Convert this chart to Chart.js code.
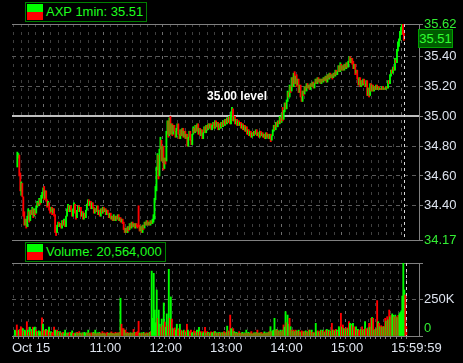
<!DOCTYPE html>
<html>
<head>
<meta charset="utf-8">
<script src="https://cdn.jsdelivr.net/npm/chart.js@4.4.1/dist/chart.umd.min.js"></script>
<style>
html,body{margin:0;padding:0;background:#000;}
#wrap{position:relative;width:463px;height:363px;overflow:hidden;background:#000;font-family:"Liberation Sans",Arial,sans-serif;}
canvas{position:absolute;left:0;}
#cPrice{top:0;}
#cVol{top:242px;}
.leg{position:absolute;left:25px;height:18px;border:1px solid #008000;background:#000;color:#1eff1e;font-size:13px;line-height:18px;padding:0 3px 0 20px;white-space:nowrap;}
.leg .sw1{position:absolute;left:1px;top:1px;width:16px;height:8px;background:#00ff00;}
.leg .sw2{position:absolute;left:1px;top:9px;width:16px;height:8px;background:#ff0000;}
#lastPx{position:absolute;left:418px;top:29px;width:33px;height:17px;border:1px solid #00a000;background:#005c00;color:#33ff33;font-size:13px;line-height:17px;text-align:center;}
#level{position:absolute;left:207px;top:89px;color:#fff;font-weight:bold;font-size:12px;}
</style>
</head>
<body>
<div id="wrap">
<canvas id="cPrice" width="463" height="250"></canvas>
<canvas id="cVol" width="463" height="121"></canvas>
<div class="leg" style="top:2px"><span class="sw1"></span><span class="sw2"></span>AXP 1min: 35.51</div>
<div class="leg" style="top:242px"><span class="sw1"></span><span class="sw2"></span>Volume: 20,564,000</div>
<div id="lastPx">35.51</div>
<div id="level">35.00 level</div>
</div>
<script>
// AXP 1-minute bars, 09:30 .. 15:59 (390 bars)
const opens = [
34.66,34.72,34.74,34.62,34.47,34.55,34.46,34.36,34.27,34.31,
34.26,34.31,34.36,34.30,34.37,34.34,34.38,34.33,34.37,34.35,
34.39,34.42,34.40,34.44,34.42,34.45,34.47,34.53,34.45,34.50,
34.44,34.40,34.42,34.38,34.36,34.39,34.35,34.38,34.34,34.25,
34.22,34.26,34.29,34.26,34.28,34.25,34.30,34.27,34.30,34.26,
34.33,34.37,34.40,34.36,34.40,34.37,34.33,34.38,34.41,34.35,
34.32,34.37,34.40,34.36,34.39,34.33,34.36,34.31,34.35,34.32,
34.37,34.41,34.44,34.40,34.43,34.38,34.42,34.39,34.35,34.38,
34.36,34.40,34.34,34.37,34.33,34.38,34.35,34.39,34.36,34.38,
34.34,34.37,34.35,34.32,34.35,34.31,34.33,34.30,34.33,34.30,
34.33,34.31,34.34,34.30,34.32,34.29,34.31,34.29,34.25,34.22,
34.25,34.22,34.26,34.24,34.28,34.25,34.29,34.26,34.28,34.25,
34.28,34.27,34.40,34.27,34.23,34.26,34.22,34.27,34.25,34.29,
34.27,34.30,34.27,34.29,34.27,34.30,34.28,34.29,34.31,34.44,
34.50,34.64,34.74,34.60,34.78,34.84,34.70,34.80,34.65,34.72,
34.70,34.88,34.97,34.87,35.00,34.88,34.95,34.88,34.94,34.90,
34.86,34.92,34.95,34.88,34.85,34.91,34.87,34.92,34.86,34.90,
34.85,34.88,34.80,34.86,34.90,34.84,34.81,34.88,34.92,34.89,
34.94,34.90,34.95,34.88,34.92,34.87,34.91,34.85,34.89,34.93,
34.89,34.94,34.91,34.95,34.92,34.95,34.91,34.94,34.96,34.92,
34.97,34.93,34.96,34.91,34.95,34.92,34.96,34.93,34.97,34.94,
34.98,34.95,34.99,34.96,35.00,34.95,35.02,35.05,34.97,35.00,
34.95,34.98,34.94,34.97,34.94,34.96,34.92,34.95,34.91,34.94,
34.90,34.93,34.88,34.91,34.87,34.90,34.86,34.89,34.87,34.90,
34.88,34.91,34.87,34.89,34.86,34.90,34.87,34.89,34.86,34.88,
34.85,34.89,34.86,34.88,34.85,34.88,34.84,34.87,34.90,34.94,
34.91,34.96,34.93,34.97,34.95,34.99,34.96,35.06,34.98,35.03,
35.09,35.05,35.10,35.16,35.13,35.20,35.17,35.26,35.20,35.30,
35.22,35.28,35.21,35.25,35.16,35.21,35.13,35.10,35.17,35.15,
35.20,35.17,35.22,35.19,35.21,35.18,35.22,35.20,35.23,35.19,
35.22,35.25,35.22,35.26,35.23,35.25,35.22,35.25,35.23,35.26,
35.24,35.27,35.23,35.28,35.25,35.29,35.26,35.28,35.26,35.29,
35.27,35.31,35.28,35.30,35.34,35.30,35.35,35.31,35.34,35.31,
35.35,35.32,35.36,35.33,35.37,35.40,35.36,35.39,35.37,35.32,
35.35,35.29,35.31,35.25,35.21,35.26,35.20,35.24,35.21,35.25,
35.22,35.20,35.24,35.14,35.19,35.14,35.22,35.17,35.21,35.17,
35.20,35.18,35.21,35.18,35.20,35.18,35.19,35.18,35.20,35.18,
35.19,35.18,35.20,35.19,35.24,35.22,35.27,35.31,35.29,35.33,
35.31,35.38,35.36,35.44,35.47,35.51,35.55,35.58,35.62,35.56
];
const closes = [
34.76,34.75,34.60,34.50,34.56,34.46,34.33,34.27,34.31,34.25,
34.33,34.38,34.29,34.37,34.34,34.39,34.32,34.38,34.34,34.40,
34.43,34.40,34.45,34.41,34.47,34.49,34.52,34.44,34.50,34.43,
34.39,34.43,34.37,34.35,34.39,34.34,34.38,34.33,34.22,34.20,
34.27,34.29,34.26,34.28,34.25,34.30,34.27,34.31,34.26,34.33,
34.38,34.41,34.36,34.40,34.37,34.33,34.38,34.42,34.35,34.31,
34.37,34.40,34.36,34.39,34.33,34.36,34.31,34.35,34.32,34.37,
34.41,34.44,34.40,34.43,34.38,34.42,34.39,34.35,34.38,34.36,
34.40,34.34,34.37,34.33,34.38,34.35,34.39,34.36,34.38,34.34,
34.37,34.35,34.32,34.35,34.31,34.33,34.30,34.34,34.30,34.33,
34.31,34.34,34.30,34.32,34.29,34.31,34.28,34.24,34.22,34.25,
34.22,34.26,34.23,34.28,34.25,34.29,34.26,34.28,34.25,34.28,
34.26,34.25,34.26,34.23,34.26,34.22,34.27,34.24,34.29,34.27,
34.30,34.27,34.29,34.27,34.30,34.28,34.31,34.34,34.45,34.53,
34.66,34.75,34.58,34.78,34.86,34.70,34.80,34.64,34.72,34.68,
34.90,34.97,34.86,34.99,34.88,34.95,34.87,34.94,34.90,34.86,
34.92,34.95,34.88,34.85,34.91,34.87,34.92,34.86,34.90,34.85,
34.88,34.80,34.86,34.90,34.84,34.81,34.88,34.93,34.89,34.94,
34.90,34.95,34.88,34.92,34.87,34.91,34.85,34.89,34.93,34.89,
34.94,34.91,34.95,34.92,34.95,34.91,34.94,34.96,34.92,34.97,
34.93,34.96,34.91,34.95,34.92,34.96,34.93,34.97,34.94,34.98,
34.95,34.99,34.96,35.00,34.95,35.03,35.06,34.97,35.00,34.95,
34.98,34.94,34.97,34.94,34.96,34.92,34.95,34.91,34.94,34.90,
34.93,34.88,34.91,34.87,34.90,34.86,34.89,34.87,34.90,34.88,
34.91,34.87,34.89,34.86,34.90,34.87,34.89,34.86,34.88,34.85,
34.89,34.86,34.88,34.85,34.88,34.83,34.87,34.91,34.94,34.91,
34.96,34.93,34.97,34.95,35.00,34.96,35.02,34.97,35.04,35.09,
35.05,35.11,35.17,35.13,35.21,35.16,35.26,35.20,35.29,35.22,
35.27,35.20,35.25,35.16,35.21,35.13,35.10,35.17,35.14,35.20,
35.17,35.22,35.19,35.21,35.18,35.22,35.20,35.23,35.19,35.22,
35.25,35.22,35.26,35.23,35.25,35.22,35.25,35.23,35.26,35.24,
35.27,35.23,35.28,35.25,35.29,35.26,35.28,35.25,35.29,35.27,
35.31,35.28,35.30,35.34,35.30,35.36,35.31,35.34,35.31,35.35,
35.32,35.36,35.33,35.37,35.40,35.36,35.39,35.35,35.32,35.35,
35.28,35.31,35.25,35.21,35.26,35.20,35.24,35.21,35.25,35.22,
35.20,35.24,35.14,35.19,35.13,35.22,35.17,35.21,35.17,35.20,
35.18,35.21,35.18,35.20,35.18,35.19,35.18,35.20,35.18,35.19,
35.18,35.20,35.19,35.24,35.22,35.28,35.31,35.29,35.33,35.31,
35.39,35.36,35.45,35.50,35.52,35.57,35.60,35.62,35.55,35.51
];
// volume per bar, thousands of shares
const volumesK = [
40,35,75,30,40,45,63,55,50,30,
40,30,97,40,25,60,30,45,60,55,
60,40,30,25,35,25,30,124,80,35,
40,45,35,40,60,25,30,20,25,60,
40,35,40,30,25,30,20,20,25,15,
40,20,18,22,15,25,20,35,18,20,
15,22,25,18,30,20,15,22,20,25,
18,22,20,40,20,15,22,18,25,20,
40,15,22,18,25,20,15,30,18,22,
15,20,25,18,15,22,28,18,20,15,
25,18,22,20,25,256,80,50,50,40,
40,20,25,18,20,22,18,20,45,25,
20,25,30,100,20,15,22,18,25,20,
15,22,18,20,25,30,440,120,425,176,
90,312,120,176,80,60,115,70,224,95,
60,150,70,452,120,265,115,50,45,55,
40,80,40,50,80,40,35,30,40,35,
25,80,40,20,30,40,20,25,35,20,
30,40,25,58,30,25,30,20,28,58,
20,30,25,20,22,28,20,25,30,30,
20,22,18,25,20,22,20,25,30,20,
25,67,35,30,142,50,45,50,30,20,
25,18,22,30,18,20,25,15,22,18,
40,20,25,18,22,30,15,20,22,18,
25,40,20,18,22,25,15,20,28,18,
22,20,25,30,63,30,35,40,120,40,
45,40,35,30,40,30,40,75,60,165,
90,142,80,120,63,40,35,40,30,40,
35,30,40,30,25,35,30,28,30,35,
25,30,40,40,35,40,25,20,22,86,
30,35,28,30,40,35,40,30,25,40,
45,35,40,30,35,86,40,40,35,45,
40,30,63,50,154,60,75,50,50,45,
55,50,97,86,80,70,86,63,55,63,
40,45,35,40,45,63,40,45,97,50,
45,55,86,60,120,126,120,40,45,50,
240,97,86,63,70,60,65,63,120,100,
131,110,176,130,142,150,140,130,142,131,
125,140,150,160,171,271,495,312,278,63
];

const priceTicks = [34.17,34.3,34.4,34.5,34.6,34.7,34.8,34.9,35.0,35.1,35.2,35.3,35.4,35.5,35.62];
const priceLabelTicks = [34.17,34.4,34.6,34.8,35.0,35.2,35.4,35.62];
const priceGridTicks = [34.4,34.6,34.8,35.2,35.4];
const volTicks = [0,250000,495000];
const timeTickValues = [90,150,210,270,330];
const timeTickLabels = ['11:00','12:00','13:00','14:00','15:00'];
const dateLabel = 'Oct 15';
const lastLabel = '15:59:59';
const levelPrice = 35.00;
const lastBar = 389;

const UP = '#00ff00', DOWN = '#ff0000';
const GREEN_TXT = '#33ee33', AXIS_TXT = '#dde3ee';
const barColors = opens.map((o,i) => closes[i] >= o ? UP : DOWN);

Chart.defaults.font.family = '"Liberation Sans", Arial, sans-serif';
Chart.defaults.font.size = 13;
Chart.defaults.animation = false;

const X_MIN = -1.5, X_MAX = 400.3;

function gridTimes(step){
  let t = [];
  for (let v = 0; v <= 390; v += step) t.push({value: v});
  return t;
}
function vGridColor(v){
  if (v % 7.5 !== 0) return 'transparent';
  return ((v - 30) % 60 === 0) ? '#6e6e6e' : '#404040';
}

// lines that frame the panels, the 35.00 level and the last-bar cursor
const panelDeco = {
  id: 'panelDeco',
  beforeDatasetsDraw(chart, args, opts){
    const {ctx, chartArea: a} = chart;
    ctx.save();
    ctx.strokeStyle = '#808080';
    ctx.lineWidth = 1;
    ctx.beginPath();
    ctx.moveTo(a.left, Math.round(a.top) + 0.5);
    ctx.lineTo(a.right, Math.round(a.top) + 0.5);
    ctx.stroke();
    if (opts.level !== undefined){
      const y = Math.round(chart.scales.y.getPixelForValue(opts.level));
      ctx.strokeStyle = '#ffffff';
      ctx.lineWidth = 1.5;
      ctx.beginPath();
      ctx.moveTo(a.left, y);
      ctx.lineTo(a.right, y);
      ctx.stroke();
    }
    ctx.restore();
  },
  afterDatasetsDraw(chart, args, opts){
    const {ctx, chartArea: a} = chart;
    const x = Math.round(chart.scales.x.getPixelForValue(opts.cursor)) + 0.5;
    ctx.save();
    ctx.strokeStyle = '#d8d8d8';
    ctx.lineWidth = 1;
    ctx.setLineDash([3,3]);
    ctx.beginPath();
    ctx.moveTo(x, a.top);
    ctx.lineTo(x, a.bottom);
    ctx.stroke();
    ctx.restore();
  },
  afterDraw(chart, args, opts){
    if (!opts.timeLabels) return;
    const {ctx, chartArea: a} = chart;
    const xs = chart.scales.x;
    const y = a.bottom + 12;
    ctx.save();
    ctx.font = '13px "Liberation Sans", Arial, sans-serif';
    ctx.fillStyle = AXIS_TXT;
    ctx.textBaseline = 'middle';
    ctx.textAlign = 'left';
    ctx.fillText(dateLabel, a.left, y);
    ctx.textAlign = 'center';
    timeTickValues.forEach((v,k) => ctx.fillText(timeTickLabels[k], xs.getPixelForValue(v), y));
    ctx.fillText(lastLabel, xs.getPixelForValue(lastBar) + 10, y);
    ctx.restore();
  }
};

new Chart(document.getElementById('cPrice'), {
  type: 'bar',
  data: {
    datasets: [{
      data: opens.map((o,i) => ({x: i, y: [o, closes[i]]})),
      backgroundColor: barColors,
      borderWidth: 0,
      barThickness: 1.2,
      minBarLength: 1
    }]
  },
  options: {
    responsive: false,
    devicePixelRatio: 1,
    events: [],
    layout: {padding: {left: 12, top: 24, right: 0, bottom: 10}},
    plugins: {
      legend: {display: false},
      tooltip: {enabled: false},
      panelDeco: {level: levelPrice, cursor: lastBar}
    },
    scales: {
      x: {
        type: 'linear', min: X_MIN, max: X_MAX,
        afterBuildTicks: s => { s.ticks = gridTimes(7.5); },
        afterFit: s => { s.height = 0; },
        ticks: {display: false},
        grid: {drawTicks: false, color: c => c.tick ? vGridColor(c.tick.value) : 'transparent'},
        border: {color: '#808080', dash: [3,5]}
      },
      y: {
        position: 'right', min: 34.17, max: 35.62,
        afterBuildTicks: s => { s.ticks = priceTicks.map(v => ({value: v})); },
        afterFit: s => { s.width = 44; },
        ticks: {
          padding: 1,
          color: c => (c.tick && (c.tick.value === 34.17 || c.tick.value === 35.62)) ? GREEN_TXT : AXIS_TXT,
          callback: v => priceLabelTicks.includes(v) ? v.toFixed(2) : ''
        },
        grid: {
          tickLength: 4, tickColor: '#808080', tickBorderDash: [],
          color: c => (c.tick && priceGridTicks.includes(c.tick.value)) ? '#5a5a5a' : 'transparent'
        },
        border: {color: '#808080', dash: [4,4]}
      }
    }
  },
  plugins: [panelDeco]
});

new Chart(document.getElementById('cVol'), {
  type: 'bar',
  data: {
    datasets: [{
      data: volumesK.map((v,i) => ({x: i, y: v * 1000})),
      backgroundColor: barColors,
      borderWidth: 0,
      barThickness: 1.2
    }]
  },
  options: {
    responsive: false,
    devicePixelRatio: 1,
    events: [],
    layout: {padding: {left: 12, top: 21, right: 0, bottom: 0}},
    plugins: {
      legend: {display: false},
      tooltip: {enabled: false},
      panelDeco: {cursor: lastBar, timeLabels: true}
    },
    scales: {
      x: {
        type: 'linear', min: X_MIN, max: X_MAX,
        afterBuildTicks: s => { s.ticks = gridTimes(2.5); },
        afterFit: s => { s.height = 27; },
        ticks: {display: false, autoSkip: false},
        grid: {
          tickLength: 3, tickBorderDash: [],
          tickColor: c => (c.tick && c.tick.value % 5 === 0) ? '#808080' : 'transparent',
          color: c => c.tick ? vGridColor(c.tick.value) : 'transparent'
        },
        border: {color: '#808080', dash: [3,5]}
      },
      y: {
        position: 'right', min: 0, max: 495000,
        afterBuildTicks: s => { s.ticks = volTicks.map(v => ({value: v})); },
        afterFit: s => { s.width = 44; },
        ticks: {
          padding: 1,
          color: c => (c.tick && c.tick.value === 0) ? GREEN_TXT : AXIS_TXT,
          callback: v => v === 0 ? ['0',''] : (v === 250000 ? '250K' : '')
        },
        grid: {
          tickLength: 4, tickColor: '#808080', tickBorderDash: [],
          color: c => (c.tick && c.tick.value === 250000) ? '#5a5a5a' : 'transparent'
        },
        border: {color: '#808080', dash: [4,4]}
      }
    }
  },
  plugins: [panelDeco]
});
</script>
</body>
</html>
